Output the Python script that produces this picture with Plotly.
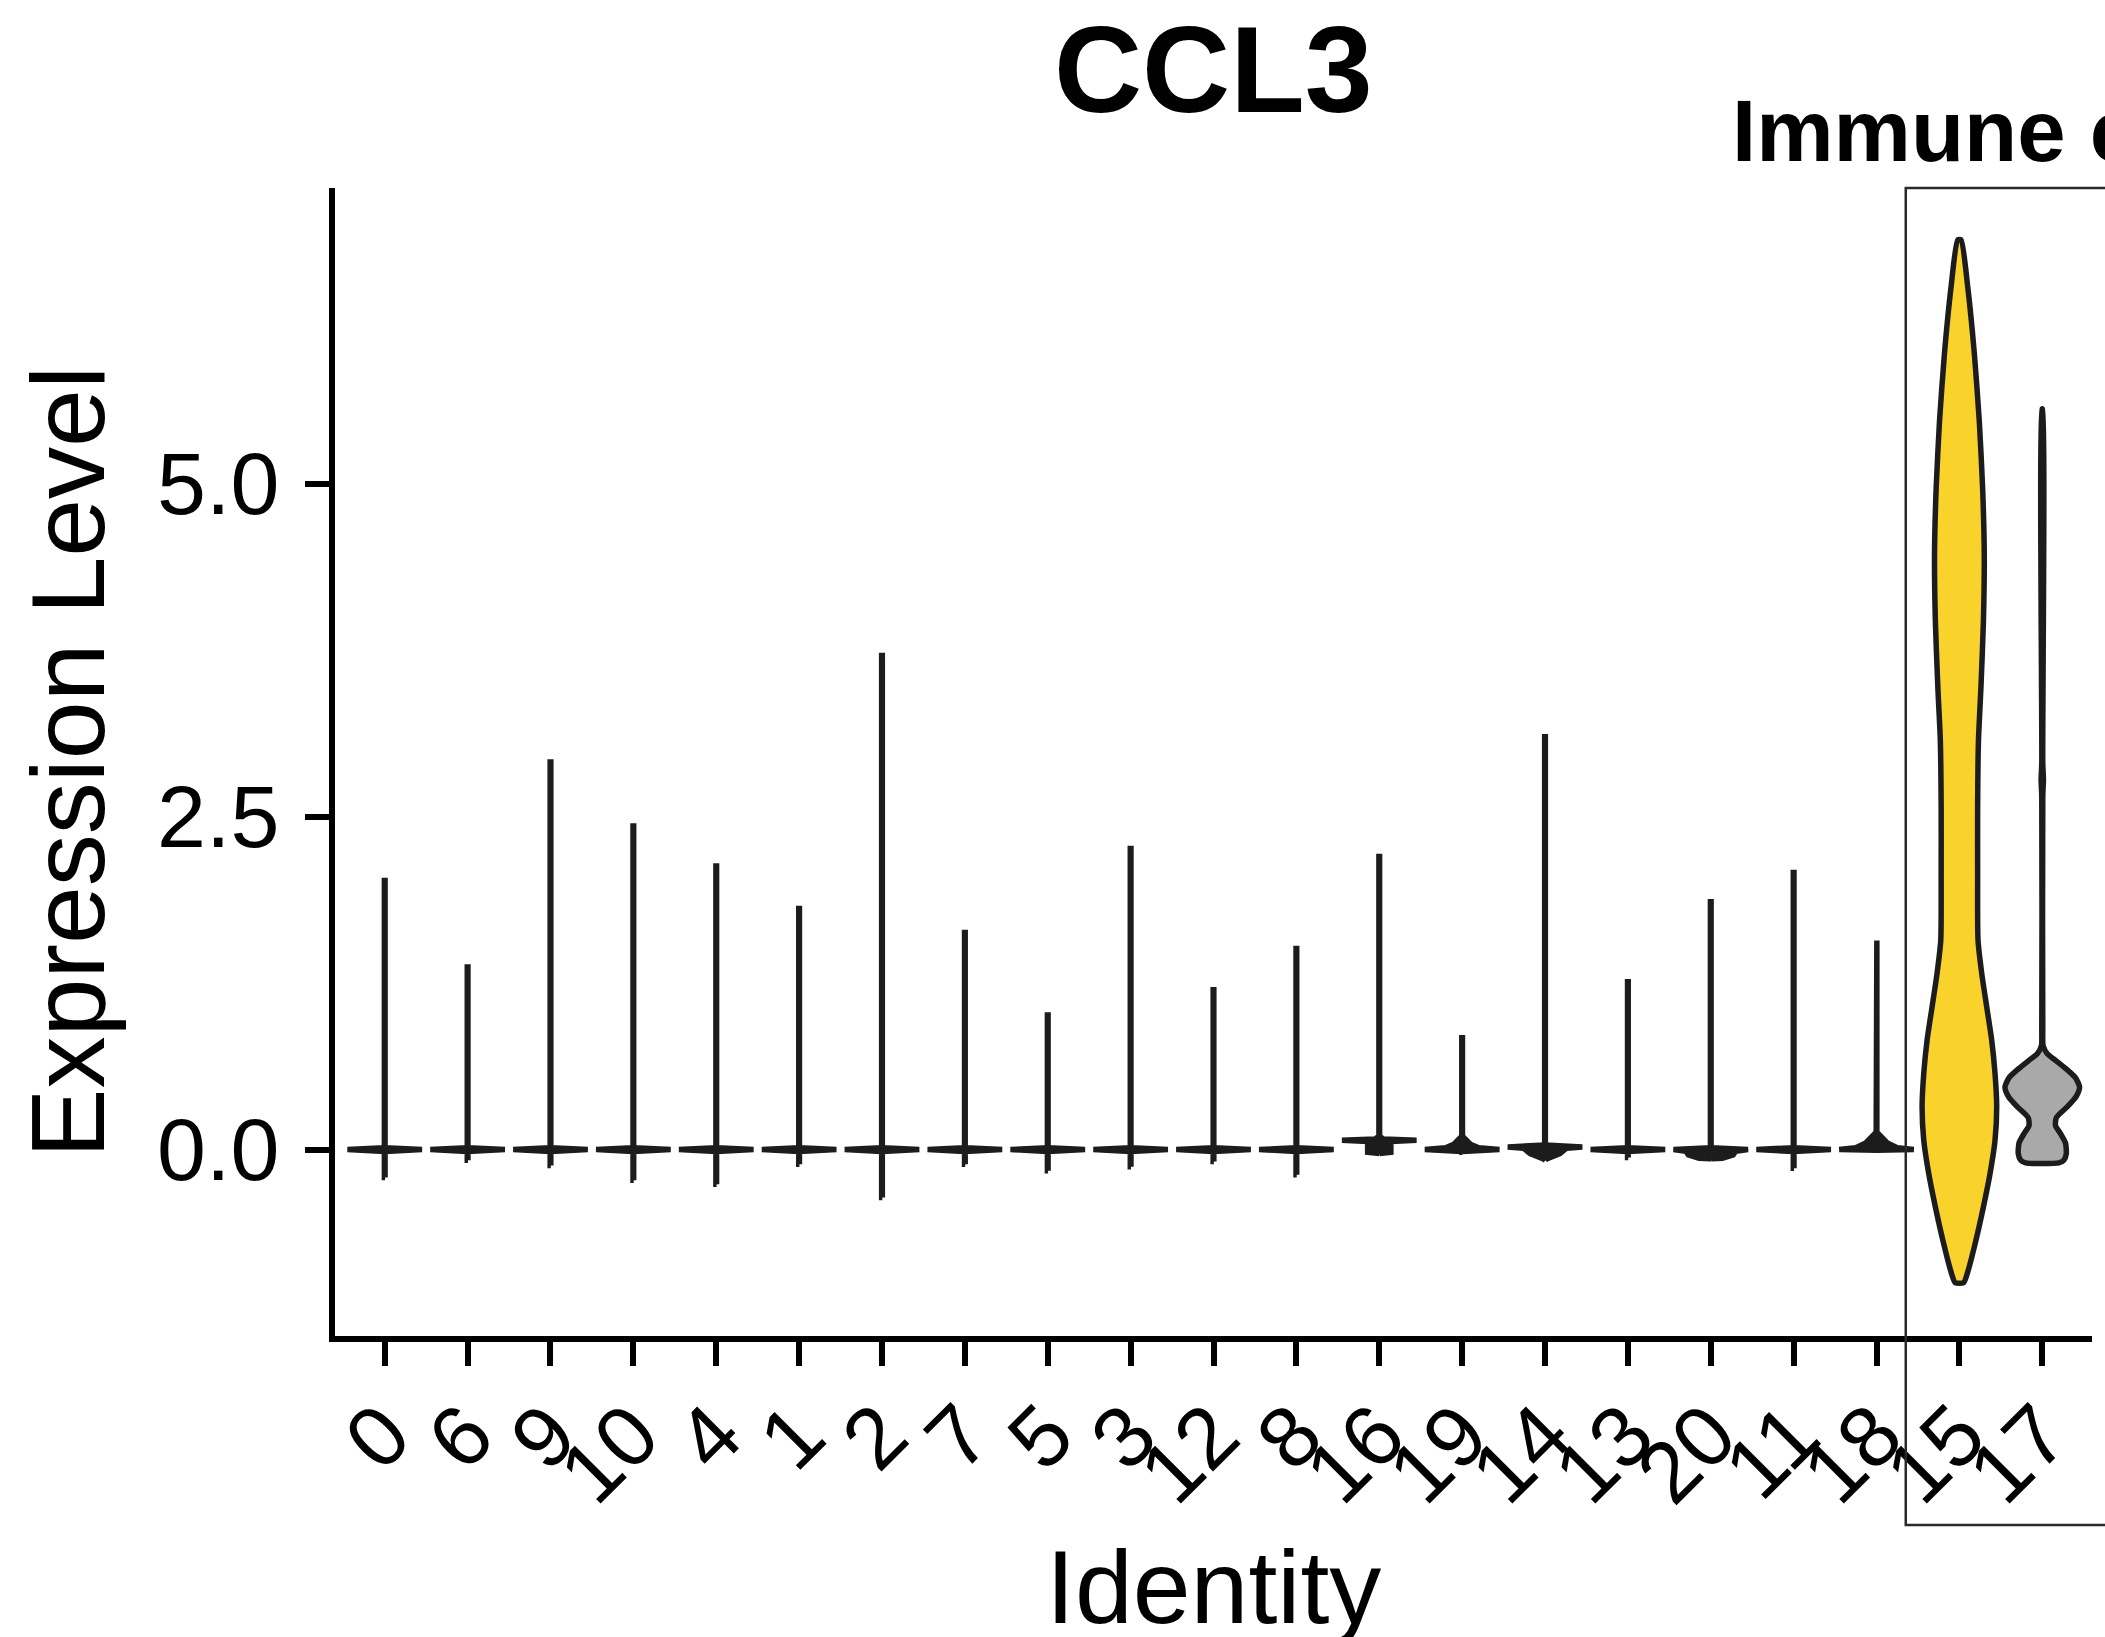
import plotly.graph_objects as go

# ---------------- data ----------------
clusters = ["0", "6", "9", "10", "4", "1", "2", "7", "5", "3", "12", "8",
            "16", "19", "14", "13", "20", "11", "18", "15", "17"]

# thin violins (first 19 clusters): max / min expression level
thin_max = [2.02, 1.37, 2.91, 2.43, 2.13, 1.81, 3.71, 1.63, 1.01, 2.26, 1.20,
            1.51, 2.20, 0.84, 3.10, 1.26, 1.86, 2.08, 1.57]
thin_min = [-0.21, -0.08, -0.12, -0.23, -0.26, -0.11, -0.36, -0.11, -0.16,
            -0.13, -0.09, -0.19, -0.03, -0.02, -0.08, -0.06, -0.07, -0.14, -0.005]

# default near-zero density spike (level, half width)
spike_levels = [-0.014, 0.0, 0.014]
spike_widths = [0.004, 0.45, 0.004]

# special near-zero shapes
c16_levels = [-0.025, -0.02, 0.06, 0.07, 0.08, 0.10]
c16_widths = [0.10, 0.14, 0.14, 0.45, 0.05, 0.004]
c19_levels = [-0.014, 0.0, 0.014, 0.04, 0.10]
c19_widths = [0.004, 0.45, 0.20, 0.10, 0.004]
c14_levels = [-0.07, -0.03, 0.01, 0.02, 0.034]
c14_widths = [0.02, 0.18, 0.26, 0.45, 0.004]
c20_levels = [-0.065, -0.04, -0.012, 0.0, 0.014]
c20_widths = [0.14, 0.27, 0.30, 0.45, 0.004]
c18_levels = [0.0, 0.014, 0.05, 0.13]
c18_widths = [0.45, 0.25, 0.13, 0.004]

# cluster 15 (immune) violin profile
c15_levels = [-1.00, -0.92, -0.68, -0.43, -0.18, 0.07, 0.32, 0.57, 0.82, 1.07,
              1.32, 1.57, 2.07, 2.57, 3.07, 3.47, 3.97, 4.47, 4.97, 5.47,
              5.98, 6.48, 6.83]
c15_widths = [0.05, 0.10, 0.20, 0.29, 0.37, 0.43, 0.45, 0.43, 0.39, 0.33,
              0.27, 0.225, 0.22, 0.22, 0.23, 0.26, 0.29, 0.30, 0.28, 0.24,
              0.18, 0.10, 0.02]

# cluster 17 (immune) violin profile
c17_levels = [-0.10, -0.08, -0.03, 0.05, 0.12, 0.18, 0.24, 0.32, 0.40, 0.47,
              0.54, 0.61, 0.67, 0.72, 0.78, 0.90, 2.65, 2.78, 2.90, 5.56]
c17_widths = [0.20, 0.26, 0.29, 0.28, 0.22, 0.16, 0.17, 0.30, 0.41, 0.45,
              0.40, 0.28, 0.16, 0.06, 0.01, 0.006, 0.006, 0.014, 0.006, 0.004]

y_ticks = [0.0, 2.5, 5.0]
y_ticktext = ["0.0", "2.5", "5.0"]

title_text = "CCL3"
group_text = "Immune cells"
x_title = "Identity"
y_title = "Expression Level"

# ---------------- styles ----------------
OUTLINE = "#1c1c1c"
FILL_15 = "#F9D22C"
FILL_17 = "#A9A9A9"
FONT = "Liberation Sans"

special = {"16": (c16_levels, c16_widths), "19": (c19_levels, c19_widths),
           "14": (c14_levels, c14_widths), "20": (c20_levels, c20_widths),
           "18": (c18_levels, c18_widths)}


def violin_trace(i, levels, widths, fill, smooth):
    xs = [i + w for w in widths] + [i - w for w in reversed(widths)]
    ys = list(levels) + list(reversed(levels))
    xs.append(xs[0])
    ys.append(ys[0])
    return go.Scatter(
        x=xs, y=ys, mode="lines", fill="toself", fillcolor=fill,
        line=dict(color=OUTLINE, width=5.5,
                  shape="spline" if smooth else "linear", smoothing=0.6),
        hoverinfo="skip", showlegend=False)


fig = go.Figure()

for i, name in enumerate(clusters[:19]):
    core_l, core_w = special.get(name, (spike_levels, spike_widths))
    levels = [thin_min[i]] + list(core_l) + [thin_max[i]]
    widths = [0.004] + list(core_w) + [0.004]
    fig.add_trace(violin_trace(i, levels, widths, OUTLINE, False))

fig.add_trace(violin_trace(19, c15_levels, c15_widths, FILL_15, True))
fig.add_trace(violin_trace(20, c17_levels, c17_widths, FILL_17, True))

fig.update_layout(
    width=2105, height=1637, autosize=False,
    margin=dict(l=335, r=13, t=188, b=301, pad=0),
    paper_bgcolor="white", plot_bgcolor="white",
    font=dict(family=FONT, color="black"),
    showlegend=False,
)

fig.update_xaxes(
    range=[-0.6, 20.6], tickmode="array", tickvals=list(range(len(clusters))),
    ticktext=clusters, tickangle=-45, tickfont=dict(size=86, family=FONT, color="black"),
    showline=True, linecolor="black", linewidth=6, ticks="outside",
    ticklen=24, tickwidth=5.5, tickcolor="black", showgrid=False, zeroline=False,
    ticklabelstandoff=-16,
)
fig.update_yaxes(
    range=[-1.40, 7.22], tickmode="array", tickvals=y_ticks, ticktext=y_ticktext,
    tickfont=dict(size=88, family=FONT, color="black"),
    showline=True, linecolor="black", linewidth=6, ticks="outside",
    ticklen=24, tickwidth=5.5, tickcolor="black", showgrid=False, zeroline=False,
    ticklabelstandoff=8,
)

# group frame around immune clusters
fig.add_shape(type="rect", xref="paper", yref="paper",
              x0=0.894, x1=1.2, y0=-0.1646, y1=1.0,
              line=dict(color="#2a2a2a", width=2.5), fillcolor="rgba(0,0,0,0)")

fig.add_annotation(text="<b>%s</b>" % title_text, xref="paper", yref="paper",
                   x=0.5, y=1.1024, xanchor="center", yanchor="middle",
                   showarrow=False, font=dict(size=122, family=FONT, color="black"))
fig.add_annotation(text="<b>%s</b>" % group_text, xref="paper", yref="paper",
                   x=0.794, y=1.0505, xanchor="left", yanchor="middle",
                   showarrow=False, font=dict(size=87, family=FONT, color="black"))
fig.add_annotation(text=x_title, xref="paper", yref="paper",
                   x=0.5, y=-0.219, xanchor="center", yanchor="middle",
                   showarrow=False, font=dict(size=104, family=FONT, color="black"))
fig.add_annotation(text=y_title, xref="paper", yref="paper",
                   x=-0.152, y=0.5, xanchor="center", yanchor="middle",
                   textangle=-90, showarrow=False,
                   font=dict(size=104, family=FONT, color="black"))

fig.write_html("out.html")
